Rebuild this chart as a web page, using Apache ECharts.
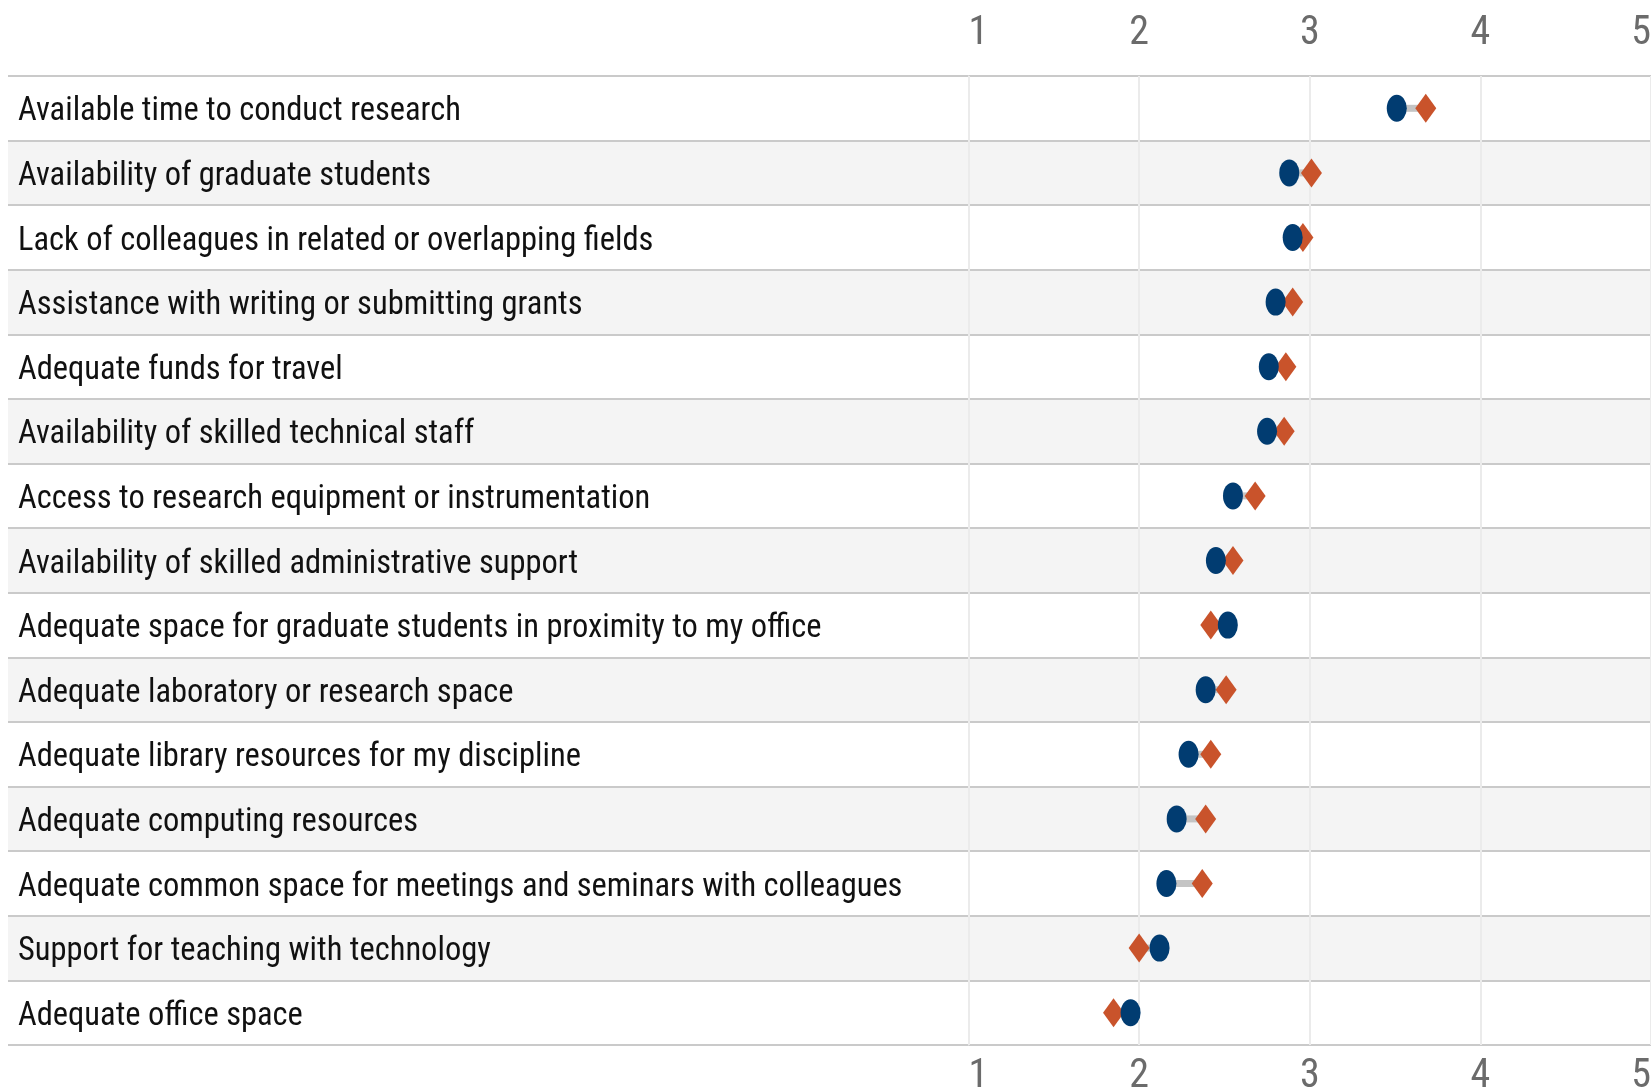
<!DOCTYPE html>
<html>
<head>
<meta charset="utf-8">
<script src="https://cdn.jsdelivr.net/npm/echarts@6/dist/echarts.min.js"></script>
<style>
  html, body { margin: 0; padding: 0; background: #fff; }
  #chart { width: 1651px; height: 1090px; }
</style>
</head>
<body>
<div id="chart"></div>
<script>
// rows, top to bottom
var items = [
    'Available time to conduct research',
    'Availability of graduate students',
    'Lack of colleagues in related or overlapping fields',
    'Assistance with writing or submitting grants',
    'Adequate funds for travel',
    'Availability of skilled technical staff',
    'Access to research equipment or instrumentation',
    'Availability of skilled administrative support',
    'Adequate space for graduate students in proximity to my office',
    'Adequate laboratory or research space',
    'Adequate library resources for my discipline',
    'Adequate computing resources',
    'Adequate common space for meetings and seminars with colleagues',
    'Support for teaching with technology',
    'Adequate office space'
];
// blue circles
var circleValues = [3.51, 2.88, 2.90, 2.80, 2.76, 2.75, 2.55, 2.45, 2.52, 2.39, 2.29, 2.22, 2.16, 2.12, 1.95];
// orange diamonds
var diamondValues = [3.68, 3.01, 2.96, 2.90, 2.86, 2.85, 2.68, 2.55, 2.42, 2.51, 2.42, 2.39, 2.37, 2.00, 1.85];
var tickValues = [1, 2, 3, 4, 5];

var FONT = "'Liberation Sans Narrow', 'Arial Narrow', 'Roboto Condensed', 'DejaVu Sans Condensed', sans-serif";
var BAND = ['#ffffff', '#f4f4f4'];
var ROWLINE = { show: true, lineStyle: { color: '#cacaca', width: 2 } };

var chart = echarts.init(document.getElementById('chart'), null, { renderer: 'canvas' });

var tickLabel = {
    show: true,
    color: '#6b6b6b',
    fontFamily: FONT,
    fontSize: 40,
    alignMinLabel: 'left',
    alignMaxLabel: 'right',
    formatter: function (v) { return tickValues.indexOf(v) >= 0 ? String(v) : ''; }
};

var option = {
    animation: false,
    backgroundColor: '#ffffff',
    grid: [
        { left: 8, right: 682.5, top: 76, bottom: 45, outerBoundsMode: 'none', containLabel: false },   // label column
        { left: 968.5, right: 0, top: 76, bottom: 45, outerBoundsMode: 'none', containLabel: false }    // plot
    ],
    xAxis: [
        { type: 'value', gridIndex: 0, show: false, min: 0, max: 1 },
        {
            type: 'value', gridIndex: 1, position: 'bottom', z: 3,
            min: tickValues[0], max: tickValues[tickValues.length - 1], interval: 1,
            axisLine: { show: false }, axisTick: { show: false },
            axisLabel: $extend(tickLabel, { margin: 12 }),
            splitLine: { show: true, lineStyle: { color: '#ebebeb', width: 2 } }
        },
        {
            type: 'value', gridIndex: 1, position: 'top', z: 3,
            min: tickValues[0], max: tickValues[tickValues.length - 1], interval: 1,
            axisLine: { show: false }, axisTick: { show: false },
            axisLabel: $extend(tickLabel, { margin: 22 }),
            splitLine: { show: false }
        }
    ],
    yAxis: [
        {
            type: 'category', gridIndex: 0, data: items, inverse: true,
            axisLine: { show: false }, axisTick: { show: false },
            axisLabel: {
                inside: true, margin: 10, align: 'left',
                formatter: function (v) { return '{t|' + v + '}'; },
                rich: {
                    t: { color: '#111111', fontFamily: FONT, fontSize: 32.5, padding: [8, 0, 0, 0] }
                }
            },
            splitLine: ROWLINE,
            splitArea: { show: true, areaStyle: { color: BAND } }
        },
        {
            type: 'category', gridIndex: 1, data: items, inverse: true,
            axisLine: { show: false }, axisTick: { show: false },
            axisLabel: { show: false },
            splitLine: ROWLINE,
            splitArea: { show: true, areaStyle: { color: BAND } }
        }
    ],
    series: [
        {
            name: 'gap',
            type: 'custom',
            xAxisIndex: 1, yAxisIndex: 1,
            encode: { x: [0, 1], y: 2 },
            data: items.map(function (c, i) { return [circleValues[i], diamondValues[i], i]; }),
            renderItem: function (params, api) {
                var a = api.coord([api.value(0), api.value(2)]);
                var b = api.coord([api.value(1), api.value(2)]);
                return {
                    type: 'line',
                    shape: { x1: a[0], y1: a[1], x2: b[0], y2: b[1] },
                    style: { stroke: '#c4c4c4', lineWidth: 7 }
                };
            },
            z: 2
        },
        {
            name: 'diamond',
            type: 'scatter',
            xAxisIndex: 1, yAxisIndex: 1,
            symbol: 'diamond',
            symbolSize: [21, 29],
            itemStyle: { color: '#c9532b', opacity: 1 },
            data: items.map(function (c, i) { return [diamondValues[i], c]; }),
            z: 3
        },
        {
            name: 'circle',
            type: 'scatter',
            xAxisIndex: 1, yAxisIndex: 1,
            symbol: 'circle',
            symbolSize: [20, 27],
            itemStyle: { color: '#013c71', opacity: 1 },
            data: items.map(function (c, i) { return [circleValues[i], c]; }),
            z: 4
        }
    ]
};

function $extend(base, extra) {
    var o = {};
    for (var k in base) o[k] = base[k];
    for (var j in extra) o[j] = extra[j];
    return o;
}

chart.setOption(option);
</script>
</body>
</html>
